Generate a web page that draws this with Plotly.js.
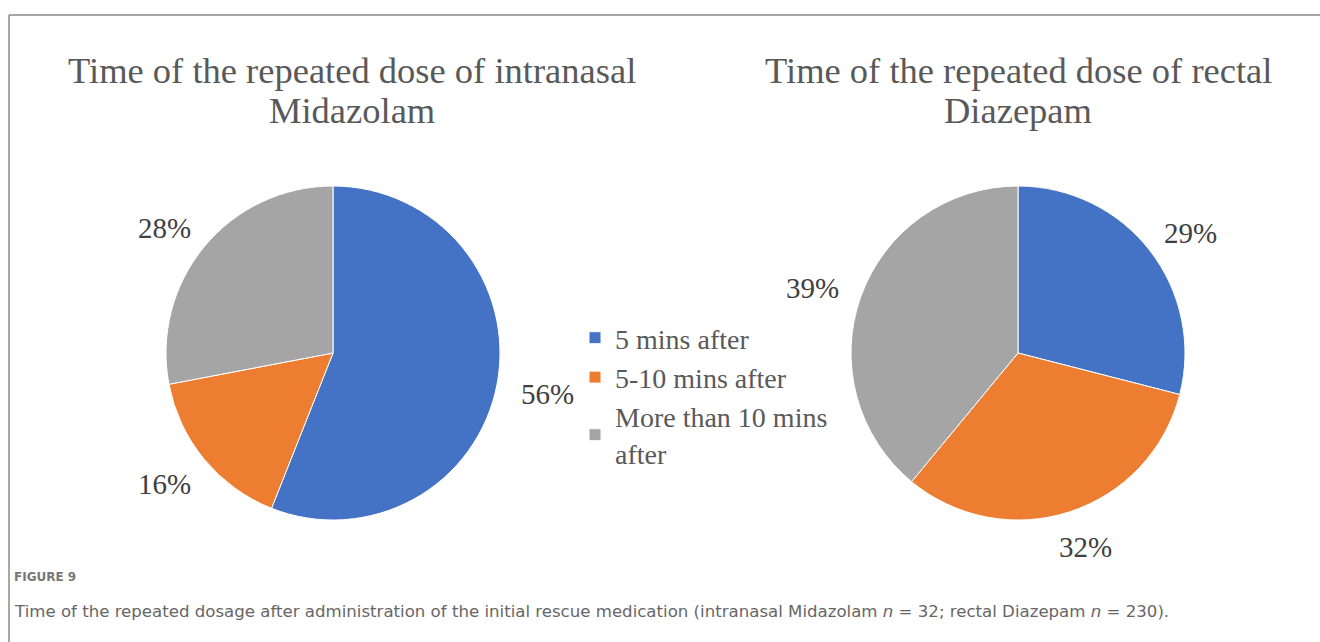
<!DOCTYPE html>
<html>
<head>
<meta charset="utf-8">
<script src="https://cdn.plot.ly/plotly-3.0.1.min.js"></script>
<style>
html,body{margin:0;padding:0;background:#fff;}
#chart{width:1320px;height:642px;}
</style>
</head>
<body>
<div id="chart"></div>
<script>
// ---- data ----
const categories = ["5 mins after", "5-10 mins after", "More than 10 mins<br>after"];
const midazolamPct = [56, 16, 28];
const diazepamPct = [29, 32, 39];
const titleMidazolam = ["Time of the repeated dose of intranasal", "Midazolam"];
const titleDiazepam = ["Time of the repeated dose of rectal", "Diazepam"];
const figureLabel = "FIGURE 9";
const captionText = "Time of the repeated dosage after administration of the initial rescue medication (intranasal Midazolam <i>n</i> = 32; rectal Diazepam <i>n</i> = 230).";
const colors = ["#4472C4", "#ED7D31", "#A5A5A5"];

// ---- layout geometry (pixels) ----
const W = 1320, H = 642;
const R = 167;
const pies = [
  {values: midazolamPct, cx: 333, cy: 353, title: titleMidazolam, tx: 352},
  {values: diazepamPct, cx: 1018, cy: 353, title: titleDiazepam, tx: 1018}
];
const serif = "Liberation Serif, Times New Roman, serif";

const data = pies.map((p, i) => ({
  type: "pie",
  labels: categories,
  values: p.values,
  sort: false,
  direction: "clockwise",
  rotation: 0,
  textinfo: "none",
  hoverinfo: "label+percent",
  marker: {colors: colors, line: {color: "#ffffff", width: 1}},
  domain: {x: [(p.cx - R) / W, (p.cx + R) / W], y: [1 - (p.cy + R) / H, 1 - (p.cy - R) / H]},
  showlegend: i === 0
}));

const annotations = [];
pies.forEach(p => {
  const total = p.values.reduce((a, b) => a + b, 0);
  let cum = 0;
  const kx = 1.31, ky = 1.2, dyShift = 3;
  p.values.forEach(v => {
    const mid = (cum + v / 2) / total;
    cum += v;
    const th = 2 * Math.PI * mid;
    annotations.push({
      xref: "paper", yref: "paper",
      x: (p.cx + kx * R * Math.sin(th)) / W,
      y: 1 - (p.cy - ky * R * Math.cos(th) + dyShift) / H,
      xanchor: "center", yanchor: "middle",
      text: Math.round(v / total * 100) + "%",
      showarrow: false,
      font: {family: serif, size: 29, color: "#404040"}
    });
  });
  const centers = [70, 110.5];
  p.title.forEach((t, j) => {
    annotations.push({
      xref: "paper", yref: "paper",
      x: p.tx / W, y: 1 - centers[j] / H,
      xanchor: "center", yanchor: "middle",
      text: t, showarrow: false,
      font: {family: serif, size: 36.5, color: "#595959"}
    });
  });
});

annotations.push({
  xref: "paper", yref: "paper", x: 12 / W, y: 1 - 577 / H,
  xanchor: "left", yanchor: "middle", text: figureLabel, showarrow: false,
  font: {family: "DejaVu Sans, sans-serif", size: 12, color: "#777777", weight: 600}
});
annotations.push({
  xref: "paper", yref: "paper", x: 12 / W, y: 1 - 611 / H,
  xanchor: "left", yanchor: "middle", text: captionText, showarrow: false,
  font: {family: "DejaVu Sans, sans-serif", size: 16.6, color: "#666666"}
});

const layout = {
  width: W, height: H,
  margin: {l: 0, r: 0, t: 0, b: 0},
  paper_bgcolor: "#ffffff",
  showlegend: true,
  legend: {
    x: 575 / W, y: 1 - 313 / H, xanchor: "left", yanchor: "top",
    font: {family: serif, size: 28, color: "#595959"},
    bgcolor: "rgba(0,0,0,0)", tracegroupgap: 0
  },
  annotations: annotations,
  shapes: [
    {type: "line", xref: "paper", yref: "paper", x0: 9 / W, x1: 1, y0: 1 - 15 / H, y1: 1 - 15 / H, line: {color: "#8a8a8a", width: 1.5}},
    {type: "line", xref: "paper", yref: "paper", x0: 9 / W, x1: 9 / W, y0: 0, y1: 1 - 15 / H, line: {color: "#8a8a8a", width: 1.5}}
  ]
};

Plotly.newPlot("chart", data, layout, {displayModeBar: false});
</script>
</body>
</html>
